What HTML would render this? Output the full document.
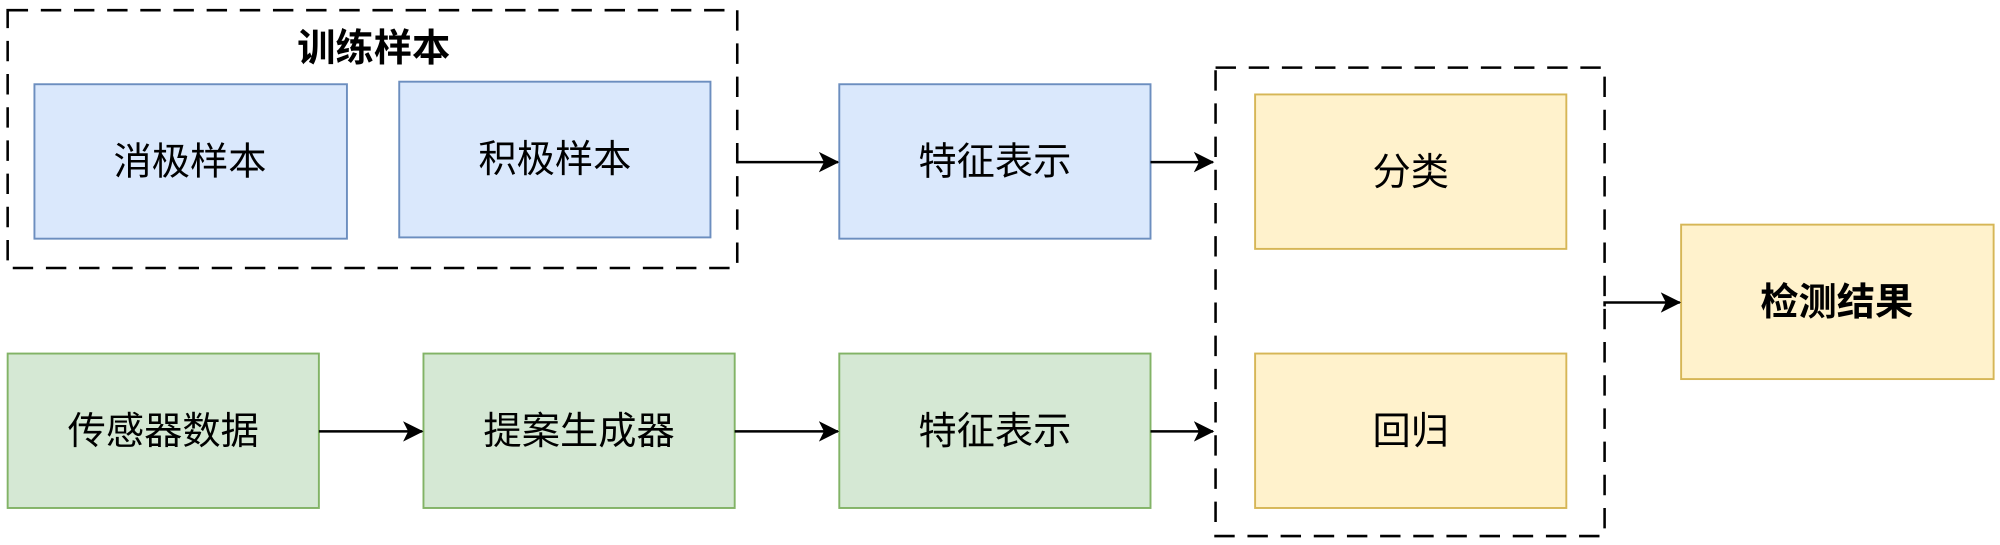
<!DOCTYPE html>
<html><head><meta charset="utf-8"><style>
html,body{margin:0;padding:0;background:#fff;}
svg{display:block;}
text{font-family:"Liberation Sans","Noto Sans CJK SC",sans-serif;font-size:30px;fill:#000;text-anchor:middle;dominant-baseline:central;}
</style></head><body>
<svg width="2000" height="545" viewBox="0 0 1568 427" preserveAspectRatio="none" xmlns="http://www.w3.org/2000/svg">
<defs><marker id="a" markerWidth="16" markerHeight="16" refX="15" refY="8" orient="auto" markerUnits="userSpaceOnUse"><path d="M0,0 L16,8 L0,16 L4,8 Z" fill="#000"/></marker></defs>
<rect x="6" y="8" width="572" height="202" fill="none" stroke="#000" stroke-width="2" stroke-dasharray="16,10"/>
<text x="293" y="38" font-weight="bold">训练样本</text>
<rect x="953" y="53" width="305" height="367" fill="none" stroke="#000" stroke-width="2" stroke-dasharray="16,10"/>
<g stroke="#6c8ebf" stroke-width="1.5" fill="#dae8fc">
<rect x="27" y="66" width="245" height="121"/><rect x="313" y="64" width="244" height="122"/><rect x="658" y="66" width="244" height="121"/></g>
<g stroke="#82b366" stroke-width="1.5" fill="#d5e8d4">
<rect x="6" y="277" width="244" height="121"/><rect x="332" y="277" width="244" height="121"/><rect x="658" y="277" width="244" height="121"/></g>
<g stroke="#d6b656" stroke-width="1.5" fill="#fff2cc">
<rect x="984" y="74" width="244" height="121"/><rect x="984" y="277" width="244" height="121"/><rect x="1318" y="176" width="245" height="121"/></g>
<text x="149" y="127">消极样本</text><text x="435" y="125">积极样本</text><text x="780" y="127">特征表示</text>
<text x="128" y="338">传感器数据</text><text x="454" y="338">提案生成器</text><text x="780" y="338">特征表示</text>
<text x="1106" y="135">分类</text><text x="1106" y="338">回归</text><text x="1440" y="237" font-weight="bold">检测结果</text>
<g stroke="#000" stroke-width="2" fill="none" marker-end="url(#a)">
<path d="M578,127 H657"/><path d="M902,127 H951"/>
<path d="M250,338 H331"/><path d="M576,338 H657"/><path d="M902,338 H951"/>
<path d="M1258,240 V237 H1317"/></g>
</svg>
</body></html>
